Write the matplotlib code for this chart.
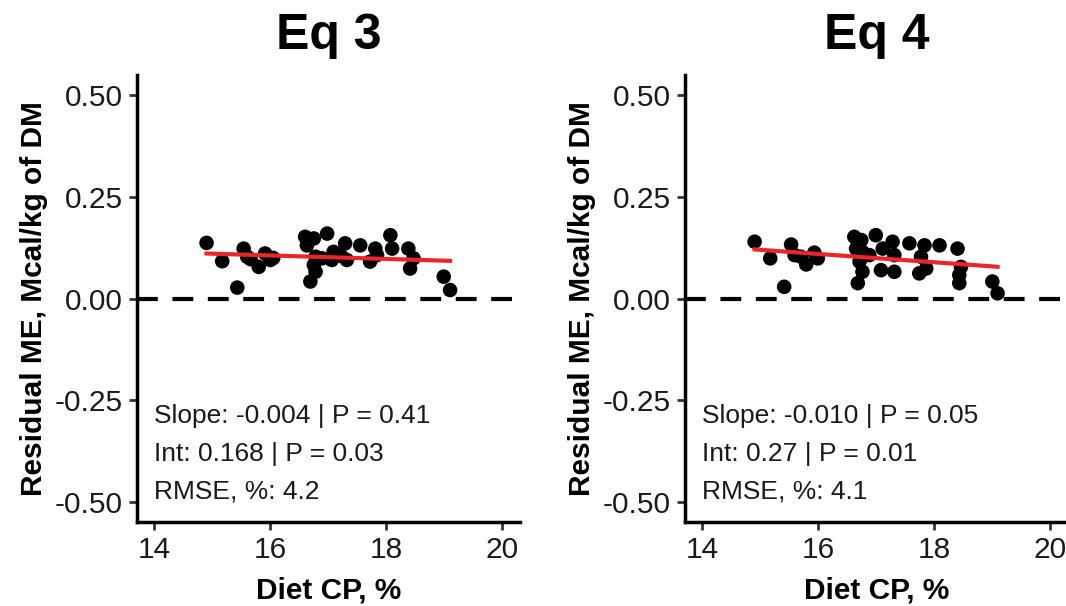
import matplotlib.pyplot as plt
import numpy as np

plt.rcParams["font.family"] = ["Liberation Sans", "DejaVu Sans"]

# Eq 3 residuals vs diet CP
eq3_cp = [14.90, 15.17, 15.43, 15.54, 15.60, 15.66, 15.80, 15.91, 16.00, 16.05,
          16.60, 16.75, 16.63, 16.78, 16.75, 16.78, 16.69, 16.89, 16.98, 17.09,
          17.06, 17.29, 17.32, 17.22, 17.55, 17.72, 17.81, 17.84, 18.07, 18.10,
          18.38, 18.47, 18.41, 18.99, 19.10]
eq3_res = [0.137, 0.092, 0.027, 0.123, 0.103, 0.097, 0.078, 0.111, 0.095, 0.100,
           0.152, 0.148, 0.131, 0.103, 0.083, 0.066, 0.042, 0.099, 0.160, 0.115,
           0.095, 0.136, 0.095, 0.105, 0.131, 0.091, 0.123, 0.107, 0.156, 0.123,
           0.123, 0.099, 0.074, 0.054, 0.021]

# Eq 4 residuals vs diet CP
eq4_cp = [14.90, 15.17, 15.41, 15.53, 15.59, 15.70, 15.79, 15.93, 15.99, 16.62,
          16.74, 16.65, 16.76, 16.71, 16.76, 16.68, 16.88, 16.99, 17.11, 17.08,
          17.28, 17.31, 17.31, 17.57, 17.83, 17.77, 17.74, 17.86, 18.09, 18.40,
          18.46, 18.43, 18.43, 19.00, 19.09]
eq4_res = [0.140, 0.099, 0.029, 0.133, 0.107, 0.103, 0.084, 0.113, 0.099, 0.152,
           0.144, 0.123, 0.115, 0.091, 0.066, 0.038, 0.107, 0.156, 0.123, 0.070,
           0.140, 0.107, 0.066, 0.136, 0.131, 0.103, 0.062, 0.074, 0.131, 0.123,
           0.078, 0.058, 0.038, 0.042, 0.013]

titles = ["Eq 3", "Eq 4"]
fit_slope = [-0.0043, -0.0102]
fit_int = [0.175, 0.273]
stats_text = [
    ["Slope: -0.004 | P = 0.41", "Int: 0.168 | P = 0.03", "RMSE, %: 4.2"],
    ["Slope: -0.010 | P = 0.05", "Int: 0.27 | P = 0.01", "RMSE, %: 4.1"],
]
yticks = [-0.50, -0.25, 0.00, 0.25, 0.50]
xticks = [14, 16, 18, 20]

fig = plt.figure(figsize=(10.66, 6.06), dpi=100)
ax_pos = [[0.1285, 0.1386, 0.359, 0.7374], [0.6426, 0.1386, 0.359, 0.7374]]
data = [(eq3_cp, eq3_res), (eq4_cp, eq4_res)]

for i, (cp, res) in enumerate(data):
    ax = fig.add_axes(ax_pos[i])
    ax.axhline(0, color="black", linestyle=(0, (5, 3.5)), linewidth=3, zorder=1)
    ax.scatter(cp, res, s=110, color="black", edgecolors="none", zorder=3)
    xs = np.array([min(cp), max(cp)])
    ax.plot(xs, fit_int[i] + fit_slope[i] * xs, color="#e8262b", linewidth=3, zorder=4)

    for j, line in enumerate(stats_text[i]):
        ax.text(14.0, -0.288 - 0.094 * j, line, fontsize=19, color="#1a1a1a",
                ha="left", va="center")

    ax.set_xlim(13.7, 20.3)
    ax.set_ylim(-0.55, 0.55)
    ax.set_xticks(xticks)
    ax.set_yticks(yticks)
    ax.set_yticklabels([f"{v:.2f}" for v in yticks])
    ax.tick_params(labelsize=21.5, width=2, length=6, color="#333333",
                   labelcolor="#1a1a1a", pad=4)
    for side in ["top", "right"]:
        ax.spines[side].set_visible(False)
    for side in ["left", "bottom"]:
        ax.spines[side].set_linewidth(2.5)
    ax.set_xlabel("Diet CP, %", fontsize=21.5, fontweight="bold", labelpad=9)
    ax.set_ylabel("Residual ME, Mcal/kg of DM", fontsize=21.5, fontweight="bold", labelpad=5)
    ax.set_title(titles[i], fontsize=36, fontweight="bold", pad=19)

fig.savefig("out.png", dpi=100)
